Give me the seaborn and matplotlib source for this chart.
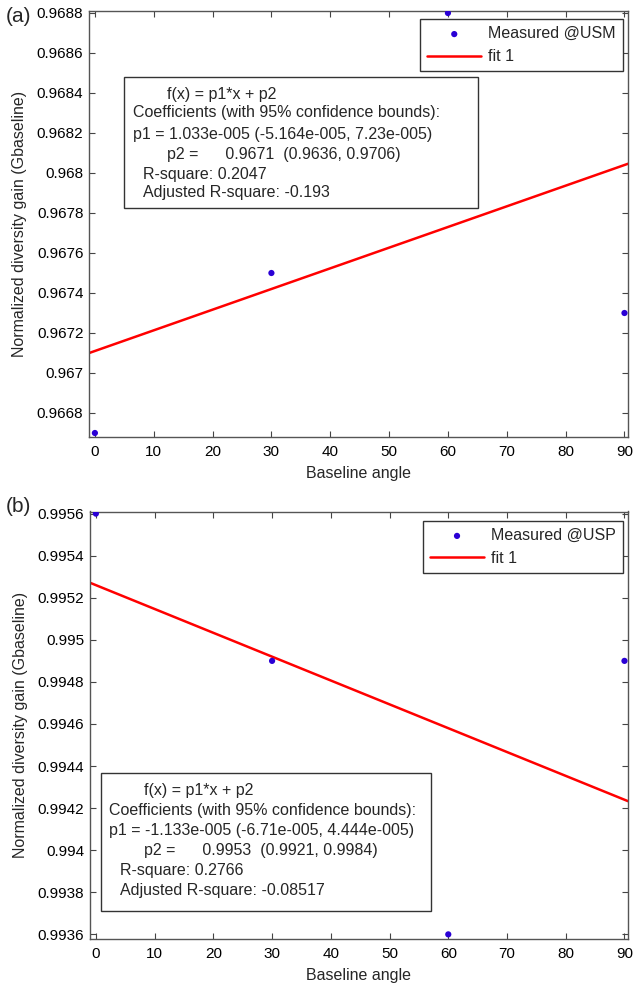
import numpy as np
import seaborn as sns
import matplotlib.pyplot as plt
from matplotlib.patches import Rectangle

# Data
angles = [0, 30, 60, 90]
gain_usm = [0.9667, 0.9675, 0.9688, 0.9673]
gain_usp = [0.9956, 0.9949, 0.9936, 0.9949]

x_ticks = list(range(0, 100, 10))
usm_yticks = [0.9668, 0.9670, 0.9672, 0.9674, 0.9676, 0.9678, 0.9680, 0.9682, 0.9684, 0.9686, 0.9688]
usp_yticks = [0.9936, 0.9938, 0.9940, 0.9942, 0.9944, 0.9946, 0.9948, 0.9950, 0.9952, 0.9954, 0.9956]

usm_box = ["f(x) = p1*x + p2",
           "Coefficients (with 95% confidence bounds):",
           "p1 = 1.033e-005 (-5.164e-005, 7.23e-005)",
           "p2 =      0.9671  (0.9636, 0.9706)",
           "R-square: 0.2047",
           "Adjusted R-square: -0.193"]
usp_box = ["f(x) = p1*x + p2",
           "Coefficients (with 95% confidence bounds):",
           "p1 = -1.133e-005 (-6.71e-005, 4.444e-005)",
           "p2 =      0.9953  (0.9921, 0.9984)",
           "R-square: 0.2766",
           "Adjusted R-square: -0.08517"]

sns.set_style("ticks")
plt.rcParams['font.family'] = ['Liberation Sans', 'DejaVu Sans']
plt.rcParams['font.size'] = 11

W, H = 633, 985
fig = plt.figure(figsize=(W / 100, H / 100), dpi=100)


def px(x, y):
    return x / W, 1 - y / H


def add_panel(rect, y, yticks, ylim, label, tag, tag_pos, box, box_rect, line_x, line_y, leg_anchor):
    ax = fig.add_axes(rect)
    ax.set_xlim(-1, 90.6)
    ax.set_ylim(*ylim)
    sns.scatterplot(x=angles, y=y, ax=ax, color='#2a00d5', s=20, edgecolor='none',
                    label=label, zorder=3)
    sns.regplot(x=angles, y=y, ax=ax, scatter=False, ci=None, truncate=False, color='red',
                label='fit 1', line_kws=dict(lw=1.8))
    ax.set_xlim(-1, 90.6)
    ax.set_ylim(*ylim)
    ax.set_xticks(x_ticks)
    ax.set_yticks(yticks)
    ax.set_yticklabels([f"{v:.4f}".rstrip('0') for v in yticks])
    ax.tick_params(direction='in', length=4, width=0.8, top=True, right=True,
                   labelsize=11, colors='#444444', labelcolor='black')
    ax.tick_params(axis='x', pad=6)
    ax.tick_params(axis='y', pad=4)
    for s in ax.spines.values():
        s.set_visible(True)
        s.set_color('#555555')
        s.set_linewidth(1.0)
    ax.set_xlabel('Baseline angle', fontsize=11.5, labelpad=5)
    ax.set_ylabel('Normalized diversity gain (Gbaseline)', fontsize=11.5, labelpad=7)
    leg = ax.legend(loc='upper right', bbox_to_anchor=leg_anchor, borderaxespad=0,
                    fancybox=False, framealpha=1, edgecolor='#333333', fontsize=11.5,
                    handlelength=3.4, handletextpad=0.4, scatterpoints=1,
                    borderpad=0.45, labelspacing=0.5)
    leg.get_frame().set_linewidth(1.0)

    # fit result box
    bx0, by0, bx1, by1 = box_rect
    fig.patches.append(Rectangle(px(bx0, by1), (bx1 - bx0) / W, (by1 - by0) / H,
                                 transform=fig.transFigure, facecolor='white',
                                 edgecolor='#333333', lw=1.0, zorder=5))
    for txt, lx, ly in zip(box, line_x, line_y):
        fig.text(*px(lx, ly), txt, fontsize=11.5, va='center', ha='left', zorder=6)
    fig.text(*px(*tag_pos), tag, fontsize=15, va='center', ha='left')
    return ax


add_panel([89 / W, 1 - 437 / H, 539 / W, 426 / H], gain_usm, usm_yticks,
          (0.96668, 0.96881), 'Measured @USM', '(a)', (6, 16),
          usm_box, (124, 77, 478, 208),
          [167, 133, 133, 167, 143, 143], [94, 113, 134, 154, 174, 193],
          (0.99, 0.981))

add_panel([90 / W, 1 - 939 / H, 538 / W, 427.5 / H], gain_usp, usp_yticks,
          (0.993578, 0.99561), 'Measured @USP', '(b)', (6, 506),
          usp_box, (101, 773, 431, 911),
          [144, 109, 109, 144, 120, 120], [790, 810, 830, 851, 870, 890],
          (0.99, 0.978))

plt.savefig('out.png', dpi=100)
